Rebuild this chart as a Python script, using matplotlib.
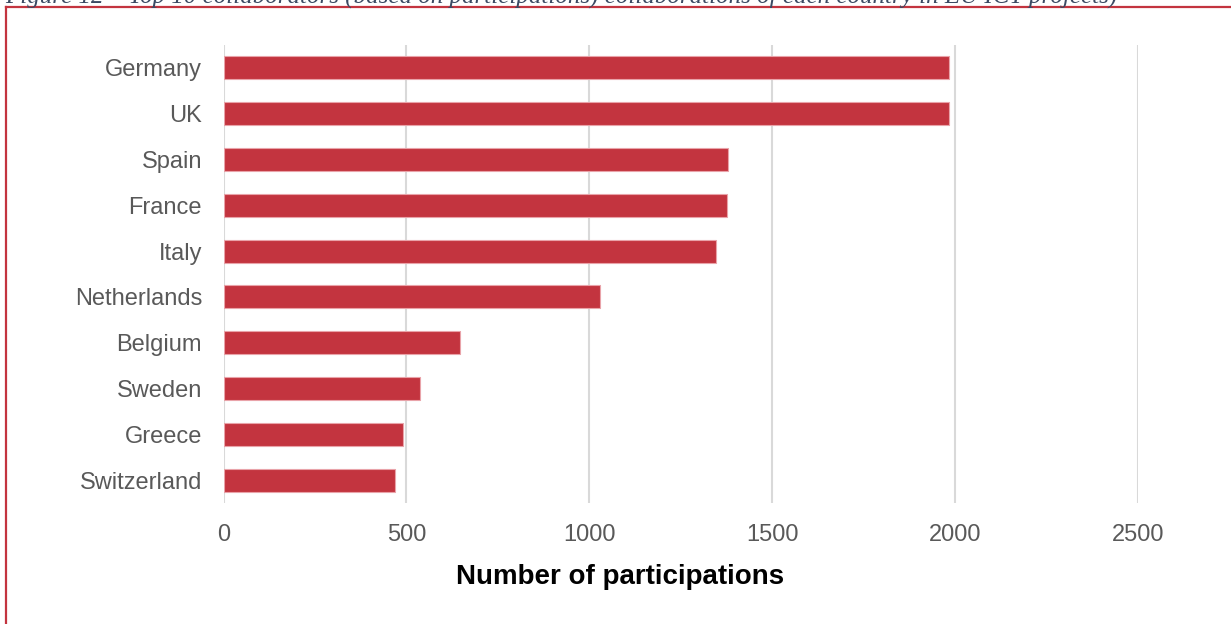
import matplotlib
matplotlib.use("Agg")
import matplotlib.pyplot as plt
from matplotlib.lines import Line2D

# Top 10 collaborators by number of participations
countries = ["Germany", "UK", "Spain", "France", "Italy",
             "Netherlands", "Belgium", "Sweden", "Greece", "Switzerland"]
participations = [1985, 1983, 1380, 1377, 1347, 1030, 647, 537, 491, 469]
xticks = [0, 500, 1000, 1500, 2000, 2500]

caption = ("Figure 12 \u2013 Top 10 collaborators (based on participations) "
           "collaborations of each country in EU ICT projects)")

bar_color = "#C3343F"
grey = "#595959"

fig = plt.figure(figsize=(12.31, 6.24), dpi=100)
ax = fig.add_axes([0.1816, 0.1939, 0.7426, 0.734])

ypos = list(range(len(countries)))
ax.barh(ypos, participations, height=0.5, color=bar_color,
        edgecolor="#E9A3A9", linewidth=0.8, zorder=3)
ax.set_ylim(len(countries) - 0.5, -0.5)
ax.set_yticks(ypos)
ax.set_yticklabels(countries, fontsize=17, color=grey, family="Liberation Sans")
ax.set_xlim(0, 2500)
ax.set_xticks(xticks)
ax.set_xticklabels([str(t) for t in xticks], fontsize=17, color=grey,
                   family="Liberation Sans")
ax.tick_params(axis="y", length=0, pad=15.5)
ax.tick_params(axis="x", length=0, pad=15)

ax.grid(axis="x", color="#D9D9D9", linewidth=1.5, zorder=0)
for s in ax.spines.values():
    s.set_visible(False)

fig.text(620 / 1231, 1 - 577 / 624, "Number of participations",
         fontsize=20, fontweight="bold", family="Liberation Sans",
         ha="center", va="center", color="black")

# caption, cut off at the top of the image as in the source
fig.text(5 / 1231, 1 - 3 / 624, caption, fontsize=18, style="italic",
         family="Liberation Serif", color="#3B4A63", ha="left", va="baseline")

# red frame, only top and left edges visible
fig.add_artist(Line2D([6 / 1231, 6 / 1231], [0, 1 - 6.5 / 624],
                      transform=fig.transFigure, color=bar_color, linewidth=1.6))
fig.add_artist(Line2D([6 / 1231, 1], [1 - 6.5 / 624, 1 - 6.5 / 624],
                      transform=fig.transFigure, color=bar_color, linewidth=1.6))

fig.savefig("out.png", dpi=100, facecolor="white")
